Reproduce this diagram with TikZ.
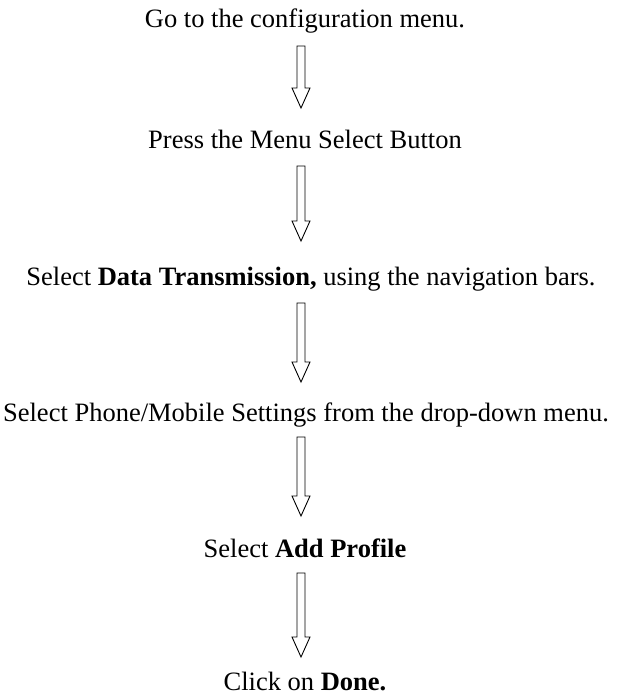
\documentclass[tikz,border=0pt]{standalone}
\usepackage{fontspec}
\setmainfont{Liberation Serif}
\usetikzlibrary{calc}
\tikzset{
  cfg/step/.style={
    anchor=base,
    inner sep=0pt,
    text=black,
    font=\fontsize{26.5}{30}\selectfont
  },
  cfg/arrow/.style={draw=black, line width=0.9pt, fill=white, line join=miter}
}
% hollow block arrow between two points
\newcommand{\flowarrow}[2]{%
  \draw[cfg/arrow] let \p1=(#1), \p2=(#2) in
    (\x1-4pt,\y1) -- (\x1+4pt,\y1) -- (\x1+4pt,\y2+20pt) -- (\x1+9pt,\y2+20pt)
    -- (\x1,\y2) -- (\x1-9pt,\y2+20pt) -- (\x1-4pt,\y2+20pt) -- cycle;}

\begin{document}
\begin{tikzpicture}[x=1pt,y=-1pt]
  \useasboundingbox (0,0) rectangle (632,697);
  \node[cfg/step] (menu) at (305,27) {Go to the configuration menu.};
  \node[cfg/step] (press) at (305,148) {Press the Menu Select Button};
  \node[cfg/step] (data) at (311,285) {Select \textbf{Data Transmission,} using the navigation bars.};
  \node[cfg/step] (phone) at (306,421) {Select Phone/Mobile Settings from the drop-down menu.};
  \node[cfg/step] (profile) at (305,557) {Select \textbf{Add Profile}};
  \node[cfg/step] (done) at (305,690) {Click on \textbf{Done.}};
  \flowarrow{[xshift=-4pt,yshift=-19pt]menu.base}{[xshift=-4pt,yshift=40pt]press.base}
  \flowarrow{[xshift=-4pt,yshift=-18pt]press.base}{[xshift=-10pt,yshift=44pt]data.base}
  \flowarrow{[xshift=-10pt,yshift=-18pt]data.base}{[xshift=-5pt,yshift=39pt]phone.base}
  \flowarrow{[xshift=-5pt,yshift=-16pt]phone.base}{[xshift=-4pt,yshift=41pt]profile.base}
  \flowarrow{[xshift=-4pt,yshift=-16pt]profile.base}{[xshift=-4pt,yshift=33pt]done.base}
\end{tikzpicture}
\end{document}
